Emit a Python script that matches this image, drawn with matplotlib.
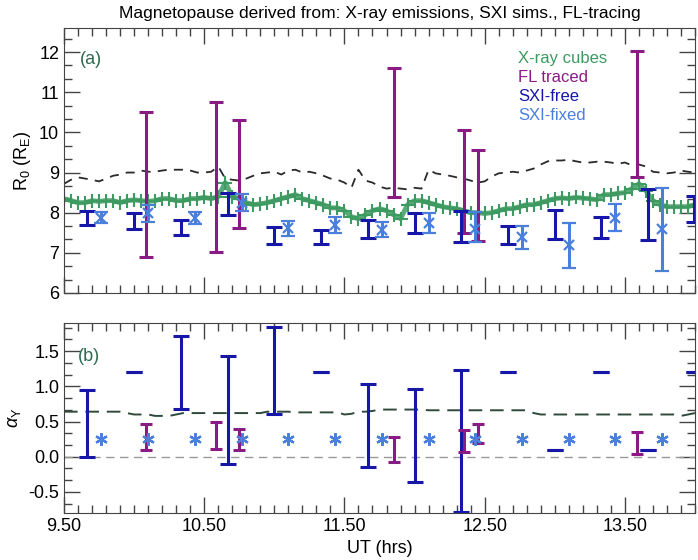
import numpy as np
import matplotlib
matplotlib.use("Agg")
import matplotlib.pyplot as plt
from matplotlib.ticker import MultipleLocator, FixedLocator, FormatStrFormatter

plt.rcParams['font.family'] = ['Liberation Sans', 'DejaVu Sans']
plt.rcParams['mathtext.fontset'] = 'custom'
plt.rcParams['mathtext.rm'] = 'Liberation Sans'
plt.rcParams['mathtext.it'] = 'Liberation Sans:italic'

# --- data ---
# X-ray cube fit + dashed line, sampled every 3 min
t_cube = np.round(np.arange(9.5, 14.001, 0.05), 2)
r0_cube = [8.35, 8.30, 8.25, 8.25, 8.30, 8.28, 8.30, 8.30, 8.25, 8.30,
           8.32, 8.30, 8.28, 8.30, 8.35, 8.35, 8.30, 8.30, 8.35, 8.35,
           8.38, 8.35, 8.40, 8.75, 8.40, 8.35, 8.25, 8.20, 8.22, 8.25,
           8.30, 8.35, 8.40, 8.45, 8.35, 8.30, 8.25, 8.20, 8.12, 8.12,
           8.05, 7.90, 7.85, 7.95, 8.05, 8.10, 8.05, 7.95, 7.85, 8.20,
           8.30, 8.30, 8.25, 8.20, 8.15, 8.12, 8.10, 8.05, 8.00, 8.00,
           7.98, 8.00, 8.05, 8.10, 8.10, 8.15, 8.20, 8.20, 8.25, 8.30,
           8.35, 8.37, 8.35, 8.38, 8.36, 8.35, 8.32, 8.45, 8.45, 8.48,
           8.50, 8.60, 8.72, 8.55, 8.30, 8.20, 8.15, 8.15, 8.15, 8.15,
           8.20]
r0_dash = [8.72, 8.82, 8.88, 8.85, 8.82, 8.78, 8.85, 8.92, 8.95, 9.00,
           9.00, 9.05, 9.02, 9.02, 9.05, 9.07, 9.07, 9.07, 9.05, 9.00,
           9.00, 9.02, 9.15, 8.85, 8.82, 8.80, 8.85, 8.92, 8.98, 9.00,
           9.02, 8.95, 9.05, 9.07, 9.00, 9.02, 8.98, 8.92, 8.85, 8.82,
           8.75, 8.62, 9.07, 8.80, 8.75, 8.65, 8.60, 8.62, 8.60, 8.58,
           8.62, 8.60, 9.07, 8.98, 8.95, 8.92, 8.88, 8.85, 8.80, 8.75,
           8.78, 8.90, 8.98, 9.00, 9.02, 9.00, 9.05, 9.10, 9.20, 9.28,
           9.30, 9.30, 9.32, 9.28, 9.25, 9.25, 9.27, 9.27, 9.25, 9.22,
           9.25, 9.18, 9.20, 9.15, 9.02, 9.00, 8.98, 9.00, 9.05, 9.02,
           9.00]
alpha_dash = [0.64, 0.64, 0.64, 0.64, 0.64, 0.64, 0.64, 0.64, 0.64, 0.62,
              0.60, 0.60, 0.60, 0.58, 0.58, 0.58, 0.60, 0.62, 0.62, 0.62,
              0.62, 0.62, 0.62, 0.62, 0.62, 0.62, 0.62, 0.62, 0.62, 0.64,
              0.64, 0.64, 0.64, 0.63, 0.63, 0.63, 0.63, 0.63, 0.63, 0.63,
              0.60, 0.61, 0.64, 0.64, 0.65, 0.67, 0.67, 0.67, 0.67, 0.67,
              0.67, 0.67, 0.66, 0.66, 0.66, 0.66, 0.66, 0.66, 0.66, 0.66,
              0.66, 0.66, 0.66, 0.66, 0.66, 0.66, 0.66, 0.62, 0.60, 0.60,
              0.60, 0.60, 0.60, 0.60, 0.60, 0.60, 0.60, 0.60, 0.60, 0.60,
              0.60, 0.60, 0.60, 0.60, 0.60, 0.60, 0.60, 0.60, 0.58, 0.60,
              0.62]

# SXI-free
t_free = [9.667, 10.0, 10.333, 10.667, 11.0, 11.333, 11.667, 12.0,
          12.333, 12.667, 13.0, 13.333, 13.667, 13.99]
free_lo_a = [7.70, 7.60, 7.45, 7.95, 7.23, 7.23, 7.37, 7.50, 7.28, 7.23, 7.35, 7.37, 7.32, 7.78]
free_hi_a = [8.03, 8.00, 7.82, 8.50, 7.65, 7.58, 7.82, 8.00, 8.05, 7.67, 8.07, 7.90, 8.60, 8.42]
free_lo_b = [0.0, 1.2, 0.68, -0.10, 0.60, 1.2, -0.15, -0.36, -0.79, 1.2, 0.1, 1.2, 0.1, 1.2]
free_hi_b = [0.95, 1.2, 1.71, 1.43, 1.84, 1.2, 1.03, 0.96, 1.23, 1.2, 0.1, 1.2, 0.1, 1.2]

# SXI-fixed
t_fixed = [9.767, 10.1, 10.433, 10.767, 11.1, 11.433, 11.767, 12.1,
           12.433, 12.767, 13.1, 13.433, 13.767]
fixed_a = [7.88, 8.00, 7.88, 8.25, 7.62, 7.70, 7.58, 7.75, 7.60, 7.40, 7.20, 7.88, 7.60]
fixed_lo_a = [7.75, 7.78, 7.73, 8.05, 7.42, 7.50, 7.40, 7.50, 7.28, 7.10, 6.62, 7.55, 6.55]
fixed_hi_a = [8.02, 8.20, 8.02, 8.47, 7.80, 7.90, 7.78, 8.00, 8.02, 7.67, 7.75, 8.22, 8.62]
fixed_b = [0.25, 0.25, 0.25, 0.25, 0.25, 0.25, 0.25, 0.25, 0.25, 0.25, 0.25, 0.25, 0.25]

# FL traced
t_fl = [10.083, 10.583, 10.75, 11.85, 12.35, 12.45, 13.583]
fl_lo_a = [6.90, 7.02, 7.63, 8.40, 7.50, 7.30, 8.90]
fl_hi_a = [10.50, 10.75, 10.30, 11.60, 10.07, 9.57, 12.02]
fl_lo_b = [0.10, 0.11, 0.10, -0.07, 0.06, 0.20, 0.04]
fl_hi_b = [0.47, 0.49, 0.40, 0.28, 0.38, 0.47, 0.35]

c_green = '#3d9a60'
c_purple = '#8a1a84'
c_dark = '#1616a8'
c_light = '#4a7fdc'
c_lab = '#2e6a50'


def bars(ax, t, lo, hi, color, cap):
    lo = np.array(lo)
    hi = np.array(hi)
    mid = (lo + hi) / 2
    ax.errorbar(t, mid, yerr=[mid - lo, hi - mid], fmt='none', ecolor=color,
                elinewidth=2.2, capsize=cap, capthick=2.2)


def style_axis(ax):
    ax.set_xlim(9.5, 14.0)
    ax.xaxis.set_major_locator(FixedLocator([9.5, 10.5, 11.5, 12.5, 13.5]))
    ax.xaxis.set_minor_locator(MultipleLocator(0.1))
    ax.xaxis.set_major_formatter(FormatStrFormatter('%.2f'))
    ax.tick_params(which='both', direction='in', top=True, right=True,
                   labelsize=13, color='#444444')
    ax.tick_params(which='major', length=11.5, width=1)
    ax.tick_params(which='minor', length=5.8, width=1)
    for s in ax.spines.values():
        s.set_color('#444444')


fig = plt.figure(figsize=(6.98, 5.6), dpi=100)
ax1 = fig.add_axes([0.0917, 0.4768, 0.904, 0.4732])
ax2 = fig.add_axes([0.0917, 0.0839, 0.904, 0.3393])

# panel (a)
ax1.plot(t_cube, r0_dash, color='#2a2a2a', lw=1.3, ls=(0, (5, 4)))
ax1.plot(t_cube, r0_cube, ls='-', lw=3.5, color=c_green, alpha=0.85)
ax1.plot(t_cube, r0_cube, ls='none', marker='+', ms=10, mew=1.5, color=c_green)
bars(ax1, t_fl, fl_lo_a, fl_hi_a, c_purple, 5)
bars(ax1, t_free, free_lo_a, free_hi_a, c_dark, 5.5)
lo = np.array(fixed_lo_a)
hi = np.array(fixed_hi_a)
c = np.array(fixed_a)
ax1.errorbar(t_fixed, c, yerr=[c - lo, hi - c], fmt='x', color=c_light, ms=7, mew=1.6,
             elinewidth=2.2, capsize=5, capthick=2.2)
ax1.set_ylim(6, 12.6)
ax1.yaxis.set_major_locator(MultipleLocator(1))
ax1.yaxis.set_minor_locator(MultipleLocator(1 / 3))
ax1.set_ylabel('R$_\\mathrm{0}$ (R$_\\mathrm{E}$)', fontsize=13)
style_axis(ax1)
ax1.set_xticklabels([])
ax1.text(0.025, 0.865, '(a)', transform=ax1.transAxes, fontsize=13, color=c_lab)
ax1.set_title('Magnetopause derived from: X-ray emissions, SXI sims., FL-tracing',
              fontsize=12.5, pad=7)

legend_items = [('X-ray cubes', c_green), ('FL traced', c_purple),
                ('SXI-free', c_dark), ('SXI-fixed', c_light)]
for i, (lab, col) in enumerate(legend_items):
    ax1.text(0.72, 0.885 - i * 0.072, lab, transform=ax1.transAxes,
             fontsize=12, color=col, va='center')

# panel (b)
ax2.axhline(0, color='#999999', lw=1, ls=(0, (6, 4)))
ax2.plot(t_cube, alpha_dash, color='#2f4a3c', lw=1.4, ls=(0, (7, 4)))
bars(ax2, t_free, free_lo_b, free_hi_b, c_dark, 5.5)
bars(ax2, t_fl, fl_lo_b, fl_hi_b, c_purple, 4)
ax2.plot(t_fixed, fixed_b, ls='none', marker=(6, 2, 0), ms=9, mew=1.6, color=c_light)
ax2.set_ylim(-0.8, 1.9)
ax2.yaxis.set_major_locator(MultipleLocator(0.5))
ax2.yaxis.set_minor_locator(MultipleLocator(0.5 / 3))
ax2.yaxis.set_major_formatter(FormatStrFormatter('%.1f'))
ax2.set_ylabel('$\\alpha_\\mathrm{Y}$', fontsize=13)
style_axis(ax2)
ax2.text(0.022, 0.80, '(b)', transform=ax2.transAxes, fontsize=13, color=c_lab)
ax2.set_xlabel('UT (hrs)', fontsize=13)

fig.align_ylabels([ax1, ax2])
fig.savefig('out.png', dpi=100)
